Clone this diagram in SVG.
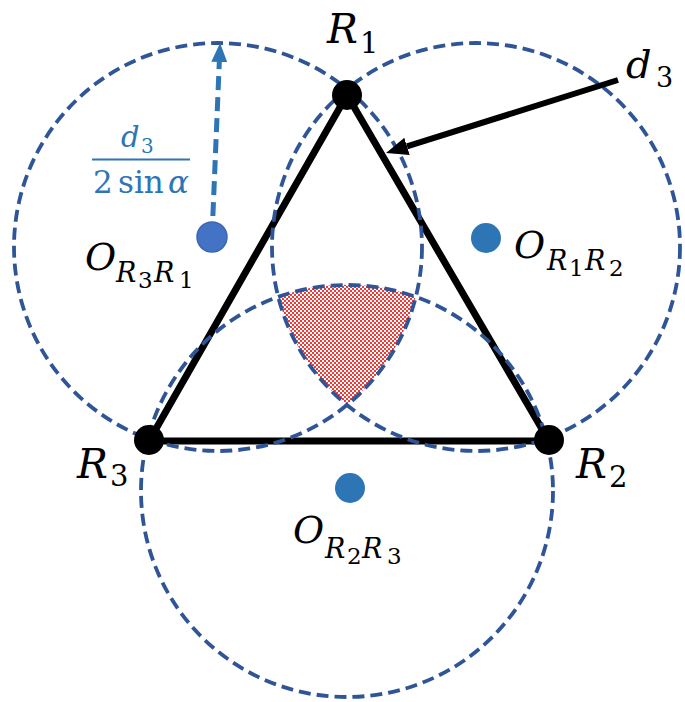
<svg xmlns="http://www.w3.org/2000/svg" width="685" height="702" viewBox="0 0 685 702">
<style>
.circ{fill:none;stroke:#2F5597;stroke-width:3.8;stroke-dasharray:12 6}
.edge{stroke:#000;stroke-width:7;stroke-linecap:round}
.vtx{fill:#000}
.ctr{fill:#2E75B6}
.m{font-family:"DejaVu Serif","Liberation Serif",serif;font-style:italic;fill:#000}
.u{font-family:"DejaVu Serif","Liberation Serif",serif;font-style:normal;fill:#000}
.blue{fill:#2E75B6}
</style>
<defs>
<pattern id="hatch" width="4" height="4" patternUnits="userSpaceOnUse">
<rect width="4" height="4" fill="#FFFFFF"/>
<rect x="0" y="0" width="2" height="2" fill="#F23A34"/>
<rect x="2" y="2" width="2" height="2" fill="#F23A34"/>
</pattern>
<marker id="blkHead" viewBox="0 0 22 18" refX="0" refY="9" markerWidth="22" markerHeight="18" markerUnits="userSpaceOnUse" orient="auto">
<path d="M0,0 L22,9 L0,18 z" fill="#000"/>
</marker>
<marker id="blueHead" viewBox="0 0 19 16" refX="0" refY="8" markerWidth="19" markerHeight="16" markerUnits="userSpaceOnUse" orient="auto">
<path d="M0,0 L19,8 L0,16 z" fill="#2E75B6"/>
</marker>
</defs>
<rect width="685" height="702" fill="#FFFFFF"/>

<g id="region">
<path d="M278.3,296.6 A206,206 0 0,1 415.7,296.6 A204,204 0 0,1 347,405 A204,204 0 0,1 278.3,296.6 Z" fill="url(#hatch)"/>
</g>

<g id="triangle">
<line class="edge" x1="347" y1="95" x2="549" y2="441"/>
<line class="edge" x1="549" y1="441" x2="149" y2="441"/>
<line class="edge" x1="149" y1="441" x2="347" y2="95"/>
</g>

<g id="circles">
<circle id="circle-R3R1" class="circ" cx="218" cy="247" r="204"/>
<circle id="circle-R1R2" class="circ" cx="476" cy="247" r="204"/>
<circle id="circle-R2R3" class="circ" cx="347" cy="491" r="206"/>
</g>

<g id="connectors">
<line x1="618" y1="80" x2="407" y2="146.4" stroke="#000" stroke-width="6" marker-end="url(#blkHead)"/>
<line x1="212" y1="237" x2="219.3" y2="62" stroke="#2E75B6" stroke-width="5" stroke-dasharray="14 7" marker-end="url(#blueHead)"/>
</g>

<g id="node-R1">
<circle class="vtx" cx="347" cy="95" r="15"/>
<text class="m" x="327" y="43" font-size="41">R</text>
<text class="u" x="360" y="53" font-size="29">1</text>
</g>
<g id="node-R2">
<circle class="vtx" cx="549" cy="440" r="15"/>
<text class="m" x="576" y="478" font-size="41">R</text>
<text class="u" x="609" y="487" font-size="29">2</text>
</g>
<g id="node-R3">
<circle class="vtx" cx="149" cy="440" r="15"/>
<text class="m" x="77" y="478" font-size="41">R</text>
<text class="u" x="110" y="486" font-size="29">3</text>
</g>

<g id="node-O-R3R1">
<circle cx="212" cy="237" r="15" fill="#4472C4" stroke="#3B66B5" stroke-width="1.5"/>
<text class="m" x="85" y="270" font-size="38">O</text>
<text class="m" x="116" y="282" font-size="27">R</text>
<text class="u" x="138" y="288" font-size="23">3</text>
<text class="m" x="154" y="282" font-size="27">R</text>
<text class="u" x="179" y="288" font-size="23">1</text>
</g>
<g id="node-O-R1R2">
<circle class="ctr" cx="486" cy="238" r="15"/>
<text class="m" x="514" y="258" font-size="38">O</text>
<text class="m" x="547" y="270" font-size="27">R</text>
<text class="u" x="569" y="276" font-size="23">1</text>
<text class="m" x="585" y="270" font-size="27">R</text>
<text class="u" x="609" y="276" font-size="23">2</text>
</g>
<g id="node-O-R2R3">
<circle class="ctr" cx="350" cy="488" r="15"/>
<text class="m" x="293" y="543" font-size="38">O</text>
<text class="m" x="325" y="558" font-size="27">R</text>
<text class="u" x="347" y="564" font-size="23">2</text>
<text class="m" x="362" y="558" font-size="27">R</text>
<text class="u" x="387" y="564" font-size="23">3</text>
</g>

<g id="label-d3">
<text class="m" x="626" y="78" font-size="40">d</text>
<text class="u" x="656" y="87" font-size="27">3</text>
</g>

<g id="label-radius">
<text class="m blue" x="121" y="147" font-size="29">d</text>
<text class="u blue" x="141" y="153" font-size="20">3</text>
<line x1="92" y1="159.5" x2="190" y2="159.5" stroke="#2E75B6" stroke-width="2"/>
<text class="u blue" x="93" y="193" font-size="31">2</text>
<text class="u blue" x="118" y="193" font-size="31">sin</text>
<text class="m blue" x="168" y="193" font-size="31">α</text>
</g>
</svg>
